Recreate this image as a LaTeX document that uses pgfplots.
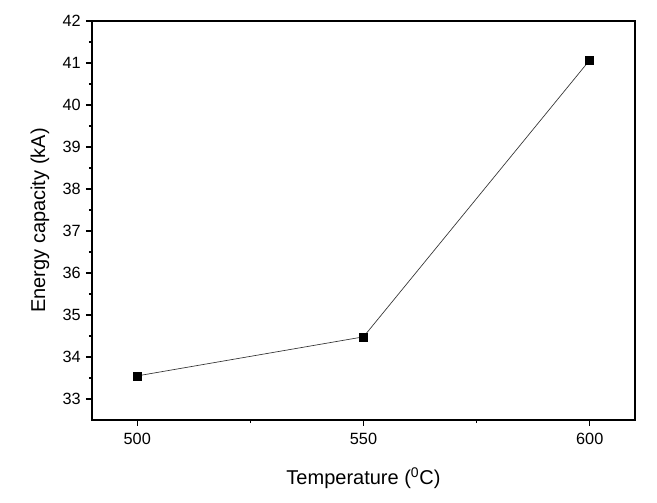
\documentclass[border=0pt]{standalone}
\usepackage{pgfplots}
\pgfplotsset{compat=1.18}
\usepackage{fontspec}
\setmainfont{Liberation Sans}
\begin{document}
\begin{tikzpicture}
\useasboundingbox (0,0) rectangle (492.75pt,377.25pt);
\begin{axis}[
  at={(69pt,62.25pt)}, anchor=south west,
  scale only axis, width=407.25pt, height=299.25pt,
  xmin=490, xmax=610, ymin=32.5, ymax=42,
  xtick={500,550,600}, ytick={33,34,...,42},
  minor tick num=1,
  tick align=outside,
  xtick pos=bottom, ytick pos=left,
  major tick length=4.5pt, minor tick length=2.3pt,
  axis line style={line width=1.1pt},
  every tick/.style={line width=1.1pt, black},
  /pgf/number format/assume math mode=true,
  ticklabel style={font=\fontsize{12.2}{14}\selectfont},
  xticklabel style={yshift=-2pt},
  yticklabel style={xshift=-0.5pt},
  xlabel={Temperature (\textsuperscript{0}C)},
  ylabel={Energy capacity (kA)},
  label style={font=\fontsize{15}{17}\selectfont},
  xlabel style={at={(axis description cs:0.5,-0.145)}, anchor=center},
  ylabel style={at={(axis description cs:-0.096,0.5)}, anchor=center},
]
\addplot[black!80, line width=0.5pt, mark=square*, mark size=3pt, mark options={fill=black, draw=black, solid}]
coordinates {(500,33.55) (550,34.48) (600,41.07)};
\end{axis}
\end{tikzpicture}
\end{document}
